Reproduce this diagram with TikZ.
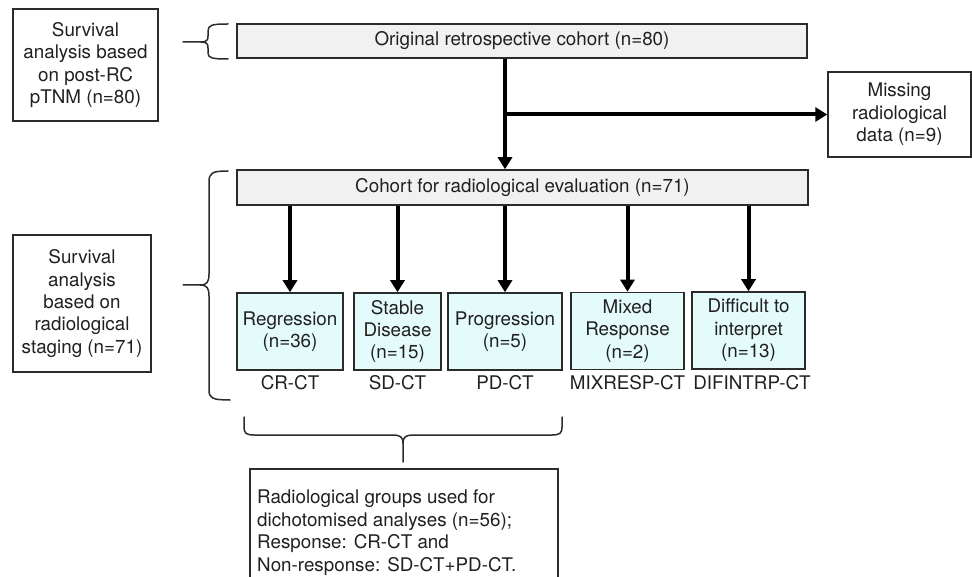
\documentclass[tikz,border=0pt]{standalone}
\usepackage{fontspec}
\setmainfont{TeX Gyre Heros}
\usetikzlibrary{arrows.meta,calc}
\definecolor{txt}{HTML}{231F20}
\definecolor{edge}{HTML}{2B2B2B}
\definecolor{greyfill}{HTML}{F1F1F1}
\definecolor{cyanfill}{HTML}{E3FBFB}
\begin{document}
\begin{tikzpicture}[x=1pt,y=-1pt,
  every node/.style={font=\fontsize{18.8}{22.4}\selectfont, text=txt},
  box/.style={draw=edge, line width=1.5pt, rectangle, inner sep=0pt, align=center, fill=white},
  greybox/.style={box, fill=greyfill},
  catbox/.style={box, fill=cyanfill, minimum height=77pt},
  arr/.style={line width=4pt, -{Triangle[width=14pt,length=12pt]}},
  brace/.style={draw=edge, line width=1.5pt, line cap=round, line join=round},
  lab/.style={inner sep=0pt}]
\useasboundingbox (0,0) rectangle (972,577);
\clip (0,0) rectangle (972,577);

% boxes
\node[box, minimum width=145pt, minimum height=112pt] (pTNM) at (85.5,65) {Survival\\analysis based\\on post-RC\\pTNM (n=80)};
\node[greybox, minimum width=570pt, minimum height=34pt] (orig) at (522,41) {Original retrospective cohort (n=80)};
\node[box, minimum width=143pt, minimum height=85pt] (missing) at (899.5,114.5) {Missing\\radiological\\data (n=9)};
\node[greybox, minimum width=571pt, minimum height=35pt] (cohort) at (522.5,187.5) {Cohort for radiological evaluation (n=71)};
\node[box, minimum width=138pt, minimum height=137pt] (staging) at (82,303.5) {Survival\\analysis\\based on\\radiological\\staging (n=71)};

\node[catbox, minimum width=106pt] (reg) at (290,331.5) {Regression\\(n=36)};
\node[catbox, minimum width=87pt] (sd) at (397.5,331.5) {Stable\\Disease\\(n=15)};
\node[catbox, minimum width=114pt] (pd) at (505,331.5) {Progression\\(n=5)};
\node[catbox, minimum width=113pt] (mix) at (627.5,331) {Mixed\\Response\\(n=2)};
\node[catbox, minimum width=113pt] (dif) at (748.5,330.5) {Difficult to\\interpret\\(n=13)};

\node[lab] (crct) at (290,383) {CR-CT};
\node[lab] (sdct) at (397.5,383) {SD-CT};
\node[lab] (pdct) at (505,383) {PD-CT};
\node[lab] (mixct) at (627.5,383) {MIXRESP-CT};
\node[lab] (difct) at (752,383) {DIFINTRP-CT};

\node[box, anchor=north west, minimum width=308pt, minimum height=140pt] (groups) at (249,468) {};
\node[anchor=north west, align=left, inner sep=0pt] (groupstext) at (257,490) {Radiological groups used for\\dichotomised analyses (n=56);\\Response: CR-CT and\\Non-response: SD-CT+PD-CT.};

% arrows
\draw[arr] (orig.south -| pd.north) -- (cohort.north -| pd.north);
\draw[arr] (missing.west -| pd.north) -- (missing.west);
\foreach \n in {reg,sd,pd,mix,dif}
  \draw[arr] (cohort.south -| \n.north) -- (\n.north);

% braces
\draw[brace] (228,24) .. controls (212,24) and (208,25) .. (208,31) -- (208,36) .. controls (208,40) and (207,42) .. (201,42) -- (183,42);
\draw[brace] (201,42) .. controls (207,42) and (208,44) .. (208,48) -- (208,53) .. controls (208,58) and (212,59) .. (228,59);

\draw[brace] (228,171) .. controls (212,171) and (209,173) .. (209,182) -- (209,274) .. controls (209,282) and (207,285) .. (200,285) -- (183,285);
\draw[brace] (200,285) .. controls (207,285) and (209,288) .. (209,296) -- (209,390) .. controls (209,398) and (212,400) .. (230,400);

\draw[brace] (244,417) -- (244,427) .. controls (244,433) and (246,435) .. (254,435) -- (393,435) .. controls (400,435) and (403,437) .. (403,443) -- (403,462);
\draw[brace] (403,443) .. controls (403,437) and (406,435) .. (413,435) -- (552,435) .. controls (560,435) and (562,433) .. (562,427) -- (562,417);
\end{tikzpicture}
\end{document}
